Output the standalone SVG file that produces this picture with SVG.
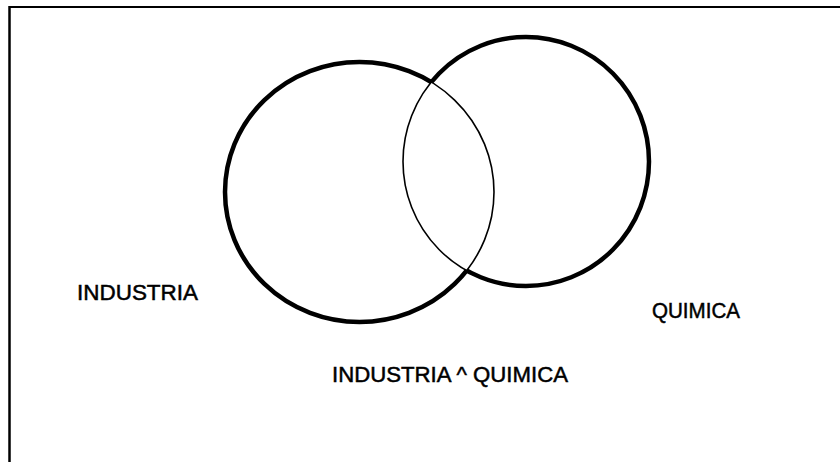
<svg xmlns="http://www.w3.org/2000/svg" width="840" height="462" viewBox="0 0 840 462">
<style>
.lbl{font-family:"Liberation Sans",Arial,sans-serif;font-size:22px;fill:#000;stroke:#000;stroke-width:0.5}
.thick{fill:none;stroke:#000;stroke-width:4.5}
.thin{fill:none;stroke:#000;stroke-width:1.6}
</style>
<defs>
<mask id="outR" maskUnits="userSpaceOnUse" x="0" y="0" width="840" height="462">
<rect x="0" y="0" width="840" height="462" fill="#fff"/>
<ellipse cx="526" cy="161.5" rx="123" ry="124.5" fill="#000"/>
</mask>
<mask id="outL" maskUnits="userSpaceOnUse" x="0" y="0" width="840" height="462">
<rect x="0" y="0" width="840" height="462" fill="#fff"/>
<ellipse cx="359.5" cy="192" rx="134.5" ry="130" fill="#000"/>
</mask>
</defs>
<rect width="840" height="462" fill="#fff"/>
<g id="frame">
<line x1="9.5" y1="7" x2="840" y2="7" stroke="#000" stroke-width="2"/>
<line x1="9.5" y1="6" x2="9.5" y2="462" stroke="#000" stroke-width="2.5"/>
</g>
<g id="industria">
<ellipse class="thin" cx="359.5" cy="192" rx="134.5" ry="130"/>
<ellipse class="thick" cx="359.5" cy="192" rx="134.5" ry="130" mask="url(#outR)"/>
</g>
<g id="quimica">
<ellipse class="thin" cx="526" cy="161.5" rx="123" ry="124.5"/>
<ellipse class="thick" cx="526" cy="161.5" rx="123" ry="124.5" mask="url(#outL)"/>
</g>
<g id="labels">
<text class="lbl" x="77" y="300" textLength="121" lengthAdjust="spacingAndGlyphs">INDUSTRIA</text>
<text class="lbl" x="652" y="318" textLength="88" lengthAdjust="spacingAndGlyphs">QUIMICA</text>
<text class="lbl" x="332" y="382" textLength="236" lengthAdjust="spacingAndGlyphs">INDUSTRIA ^ QUIMICA</text>
</g>
</svg>
